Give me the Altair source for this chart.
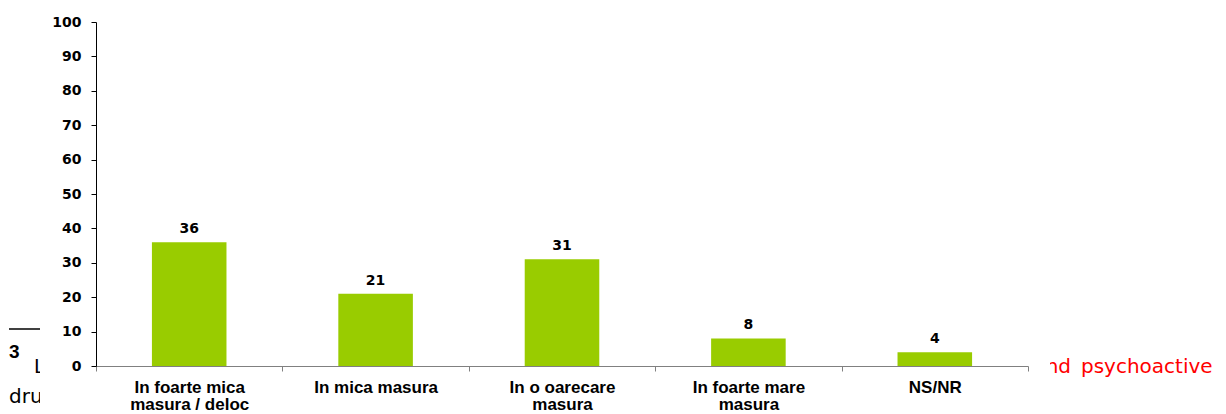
import altair as alt
import pandas as pd

categories = ["In foarte mica|masura / deloc", "In mica masura", "In o oarecare|masura",
              "In foarte mare|masura", "NS/NR"]
values = [36, 21, 31, 8, 4]
y_ticks = list(range(0, 101, 10))

df = pd.DataFrame({"cat": categories, "val": values})
one = pd.DataFrame({"k": [0]})

W, H = 932, 344

x_enc = alt.X(
    "cat:N", sort=categories,
    scale=alt.Scale(paddingInner=0, paddingOuter=0),
    axis=alt.Axis(title=None, labelAngle=0, labelExpr="split(datum.label, '|')",
                  tickBand="extent", tickSize=5, tickColor="#808080", domainColor="#808080",
                  labelFont="Liberation Sans", labelFontSize=17, labelFontWeight="bold",
                  labelColor="black", labelLineHeight=17, labelPadding=8, zindex=1),
)
y_enc = alt.Y(
    "val:Q", scale=alt.Scale(domain=[0, 100], nice=False),
    axis=alt.Axis(title=None, values=y_ticks, grid=False, tickSize=5, tickColor="black",
                  domainColor="black", labelFont="DejaVu Sans", labelFontSize=14,
                  labelFontWeight="bold", labelColor="black", labelPadding=10, zindex=1),
)

bg_3 = alt.Chart(one).mark_text(align="left", baseline="alphabetic",
                                font="Liberation Sans", fontWeight="bold", fontSize=19,
                                color="black").encode(x=alt.value(-87), y=alt.value(336),
                                                      text=alt.value("3"))
bg_rule = alt.Chart(one).mark_rule(color="black", strokeWidth=1.5).encode(
    x=alt.value(-87), x2=alt.value(-55), y=alt.value(307))
bg_L = alt.Chart(one).mark_text(text="L", align="left", baseline="alphabetic",
                                font="DejaVu Sans", fontSize=19, color="black").encode(
    x=alt.value(-62), y=alt.value(351))
bg_dru = alt.Chart(one).mark_text(text="dru", align="left", baseline="alphabetic",
                                  font="DejaVu Sans", fontSize=20, color="black").encode(
    x=alt.value(-87), y=alt.value(381))
bg_nd = alt.Chart(one).mark_text(text="nd", align="right", baseline="alphabetic",
                                 font="DejaVu Sans", fontSize=20, color="#FF0000").encode(
    x=alt.value(975), y=alt.value(351))
bg_psy = alt.Chart(one).mark_text(text="psychoactive", align="left", baseline="alphabetic",
                                  font="DejaVu Sans", fontSize=20, color="#FF0000").encode(
    x=alt.value(985), y=alt.value(351))
cover = alt.Chart(one).mark_rect(color="white").encode(
    x=alt.value(-56), x2=alt.value(954), y=alt.value(-22), y2=alt.value(392))

bars = alt.Chart(df).mark_bar(color="#99CC00", width={"band": 0.4}).encode(x=x_enc, y=y_enc)
labels = alt.Chart(df).mark_text(dy=-9, baseline="alphabetic", font="DejaVu Sans",
                                 fontWeight="bold", fontSize=14, color="black").encode(
    x=x_enc, y=y_enc, text="val:Q")

chart = alt.layer(bg_3, bg_rule, bg_L, bg_dru, bg_nd, bg_psy, cover, bars, labels).properties(
    width=W, height=H,
    padding={"left": 88, "top": 14, "right": 190, "bottom": 48},
    autosize=alt.AutoSizeParams(type="none"),
).configure_view(stroke="transparent")

chart.save("out.html", embed_options={"renderer": "svg", "actions": False})
